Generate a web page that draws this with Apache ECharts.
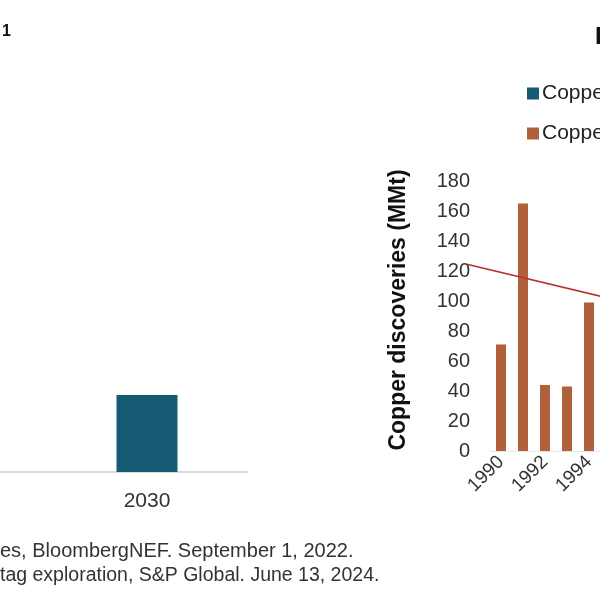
<!DOCTYPE html>
<html>
<head>
<meta charset="utf-8">
<script src="https://cdn.jsdelivr.net/npm/echarts@6/dist/echarts.min.js"></script>
<style>
html,body{margin:0;padding:0;background:#fff;}
#c{width:600px;height:600px;}
</style>
</head>
<body>
<div id="c"></div>
<script>
// Left panel (cropped: only the 2030 bar is visible)
const leftYears = [2030];
const leftValues = [25.7];

// Right panel (cropped)
const discoveryYears = ['1990', '1991', '1992', '1993', '1994'];
const discoveryValues = [71, 165, 44, 43, 99];
const yTicks = { min: 0, max: 180, interval: 20 };
const trendX = [1988.45, 1995.0];
const trendY = [124.5, 101.5];

const seriesNames = ['Copper demand', 'Copper discoveries'];
const footerLines = [
  'es, BloombergNEF. September 1, 2022.',
  'tag exploration, S&P Global. June 13, 2024.'
];

const FONT = "'Liberation Sans', Arial, sans-serif";
const TEAL = '#175a73';
const BROWN = '#b0603a';

const chart = echarts.init(document.getElementById('c'));
chart.setOption({
  backgroundColor: '#fff',
  animation: false,
  textStyle: { fontFamily: FONT },
  legend: {
    orient: 'vertical',
    left: 522,
    top: 78,
    itemGap: 19,
    itemWidth: 12,
    itemHeight: 12,
    icon: 'rect',
    data: seriesNames,
    textStyle: { fontSize: 21, color: '#222', fontFamily: FONT, padding: [0, 0, 0, -2] }
  },
  grid: [
    { left: 0, width: 247, top: 172, bottom: 128 },
    { left: 490, width: 110, top: 181, bottom: 149 },
    { left: 440, width: 160, top: 181, bottom: 149 }
  ],
  xAxis: [
    {
      gridIndex: 0, type: 'value', min: 2024.12, max: 2034,
      axisLine: { show: true, onZero: false, lineStyle: { color: '#d0d0d0', width: 1.5 } },
      axisTick: { show: false },
      splitLine: { show: false },
      axisLabel: {
        fontSize: 21, color: '#333', margin: 19, fontFamily: FONT,
        customValues: leftYears, formatter: v => String(v)
      }
    },
    {
      gridIndex: 1, type: 'category', data: discoveryYears,
      axisLine: { lineStyle: { color: '#e6e6e6' } },
      axisTick: { show: false },
      axisLabel: { fontSize: 19, color: '#333', rotate: 45, interval: 1, margin: 8, fontFamily: FONT }
    },
    {
      gridIndex: 2, type: 'value', min: 1987.227, max: 1994.5, show: false
    }
  ],
  yAxis: [
    { gridIndex: 0, type: 'value', min: 0, max: 100, show: false },
    {
      gridIndex: 1, type: 'value', min: yTicks.min, max: yTicks.max, interval: yTicks.interval,
      name: 'Copper discoveries (MMt)', nameLocation: 'middle', nameGap: 80,
      nameTextStyle: { fontSize: 23, fontWeight: 'bold', color: '#111', fontFamily: FONT, padding: [0, 0, 0, 12] },
      axisLine: { show: false }, axisTick: { show: false },
      splitLine: { show: false },
      axisLabel: { fontSize: 20, color: '#333', margin: 20, fontFamily: FONT }
    },
    { gridIndex: 2, type: 'value', min: yTicks.min, max: yTicks.max, show: false }
  ],
  series: [
    {
      name: seriesNames[0], type: 'bar', xAxisIndex: 0, yAxisIndex: 0,
      data: leftYears.map((y, i) => [y, leftValues[i]]), barWidth: 61, itemStyle: { color: TEAL }
    },
    {
      name: seriesNames[1], type: 'bar', xAxisIndex: 1, yAxisIndex: 1,
      data: discoveryValues, barWidth: 10, itemStyle: { color: BROWN }
    },
    {
      name: 'Trend', type: 'line', xAxisIndex: 2, yAxisIndex: 2,
      data: trendX.map((x, i) => [x, trendY[i]]),
      symbol: 'none', clip: false,
      lineStyle: { color: '#b8322a', width: 1.5 }
    }
  ],
  graphic: [
    { type: 'text', left: 2, top: 24, style: { text: '1', font: "bold 16px 'Liberation Sans', Arial", fill: '#111' } },
    { type: 'text', left: 595, top: 25, style: { text: 'I', font: "bold 24px 'Liberation Sans', Arial", fill: '#111' } },
    { type: 'text', left: 0, top: 541, style: { text: footerLines[0], font: "20px 'Liberation Sans', Arial", fill: '#333' } },
    { type: 'text', left: 0, top: 566, style: { text: footerLines[1], font: "19.5px 'Liberation Sans', Arial", fill: '#333' } }
  ]
});
</script>
</body>
</html>
